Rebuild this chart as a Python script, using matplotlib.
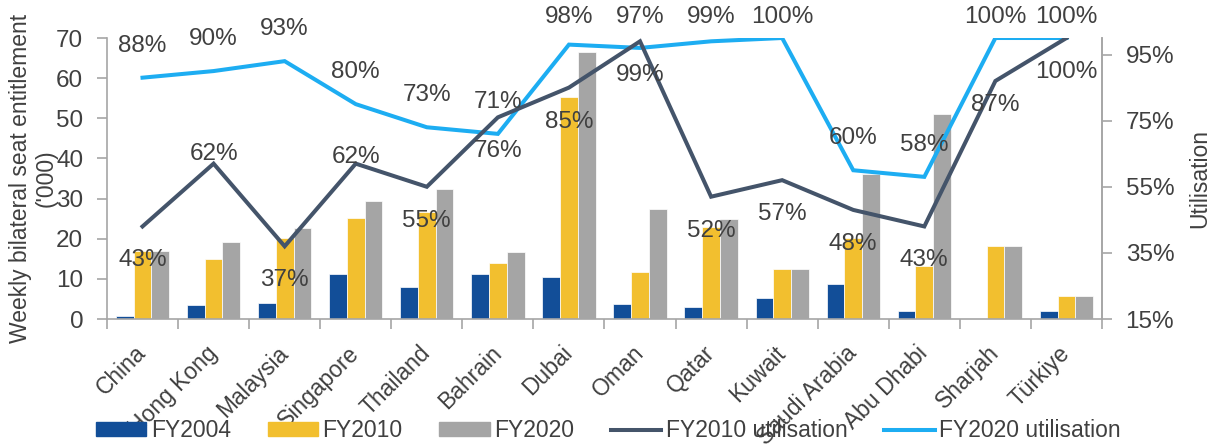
import matplotlib
matplotlib.use("Agg")
import matplotlib.pyplot as plt
from matplotlib.lines import Line2D
from matplotlib.patches import Patch
import numpy as np

# data
countries = ["China", "Hong Kong", "Malaysia", "Singapore", "Thailand", "Bahrain", "Dubai",
             "Oman", "Qatar", "Kuwait", "Saudi Arabia", "Abu Dhabi", "Sharjah", "Türkiye"]
fy2004 = [0.8, 3.4, 3.9, 11.1, 8.1, 11.2, 10.5, 3.8, 3.0, 5.2, 8.6, 2.0, 0.0, 2.0]
fy2010 = [16.9, 14.9, 20.3, 25.1, 26.7, 13.9, 55.3, 11.6, 23.0, 12.4, 20.1, 13.3, 18.2, 5.7]
fy2020 = [16.9, 19.3, 22.6, 29.4, 32.5, 16.6, 66.4, 27.4, 24.8, 12.4, 36.0, 51.0, 18.2, 5.7]
util2010 = [43, 62, 37, 62, 55, 76, 85, 99, 52, 57, 48, 43, 87, 100]
util2020 = [88, 90, 93, 80, 73, 71, 98, 97, 99, 100, 60, 58, 100, 100]

plt.rcParams["font.family"] = ["Liberation Sans", "DejaVu Sans"]
plt.rcParams["font.size"] = 16.5
num_size = 17.5

txt = "#404040"
spine_c = "#A6A6A6"
c04, c10, c20 = "#124E98", "#F2BF2F", "#A5A5A5"
cl10, cl20 = "#44546A", "#1DADF2"

fig = plt.figure(figsize=(12.17, 4.45), dpi=100)
ax = fig.add_axes([0.0879, 0.2831, 0.8176, 0.6315])
ax2 = ax.twinx()

x = np.arange(len(countries))
w = 0.25
ax.bar(x - w, fy2004, w, color=c04, edgecolor="white", linewidth=0.5)
ax.bar(x, fy2010, w, color=c10, edgecolor="white", linewidth=0.5)
ax.bar(x + w, fy2020, w, color=c20, edgecolor="white", linewidth=0.5)

ax.set_xlim(-0.5, len(countries) - 0.5)
ax.set_ylim(0, 70)
ax.set_yticks(range(0, 71, 10))
ax.set_xticks(x)
ax.set_xticklabels(countries, rotation=45, ha="right", va="center", rotation_mode="anchor")
ax.set_xticks(np.arange(-0.5, len(countries), 1), minor=True)
ax.tick_params(axis="x", which="major", length=0, pad=22, colors=txt)
ax.tick_params(axis="x", which="minor", length=7, width=1.2, color=spine_c)
ax.tick_params(axis="y", length=7, width=1.2, color=spine_c, labelcolor=txt, pad=10,
               labelsize=num_size)

u10 = [v / 100 for v in util2010]
u20 = [v / 100 for v in util2020]
ax2.plot(x, u20, color=cl20, lw=2.9, solid_joinstyle="miter")
ax2.plot(x, u10, color=cl10, lw=2.9, solid_joinstyle="miter")
ax2.set_ylim(0.15, 1.0)
ax2.set_yticks([0.15, 0.35, 0.55, 0.75, 0.95])
ax2.set_yticklabels(["15%", "35%", "55%", "75%", "95%"])
ax2.tick_params(axis="y", length=7, width=1.2, color=spine_c, labelcolor=txt, pad=10,
                labelsize=num_size)

for a in (ax, ax2):
    a.spines["top"].set_visible(False)
    for s in ("left", "right", "bottom"):
        a.spines[s].set_color(spine_c)
        a.spines[s].set_linewidth(1.2)
ax2.spines["left"].set_visible(False)
ax2.spines["bottom"].set_visible(False)

# data labels
px_per_unit = 281 / 0.85
for i, v in enumerate(util2020):
    dy = min(32, 21 + (100 - v) / 100 * px_per_unit)
    ax2.annotate(f"{v}%", (i, v / 100), xytext=(0, dy), textcoords="offset pixels",
                 ha="center", va="center", color=txt, fontsize=num_size,
                 annotation_clip=False)
off10 = [-34, 10, -34, 7, -34, -34, -34, -34, -34, -34, -34, -34, -24, -34]
for i, v in enumerate(util2010):
    ax2.annotate(f"{v}%", (i, v / 100), xytext=(0, off10[i]), textcoords="offset pixels",
                 ha="center", va="center", color=txt, fontsize=num_size,
                 annotation_clip=False)

ax.set_ylabel("Weekly bilateral seat entitlement\n('000)", color=txt, linespacing=1.15)
ax.yaxis.set_label_coords(-0.050, 0.5)
ax2.set_ylabel("Utilisation", color=txt)
ax2.yaxis.set_label_coords(1.087, 0.5)

handles = [Patch(color=c04), Patch(color=c10), Patch(color=c20),
           Line2D([], [], color=cl10, lw=2.9), Line2D([], [], color=cl20, lw=2.9)]
labels = ["FY2004", "FY2010", "FY2020", "FY2010 utilisation", "FY2020 utilisation"]
leg = fig.legend(handles, labels, loc="center", bbox_to_anchor=(0.5, 0.032), ncol=5,
                 frameon=False, handlelength=2.2, handleheight=0.57, handletextpad=0.2,
                 columnspacing=1.6, borderpad=0)
for t in leg.get_texts():
    t.set_color(txt)

fig.savefig("out.png", dpi=100)
